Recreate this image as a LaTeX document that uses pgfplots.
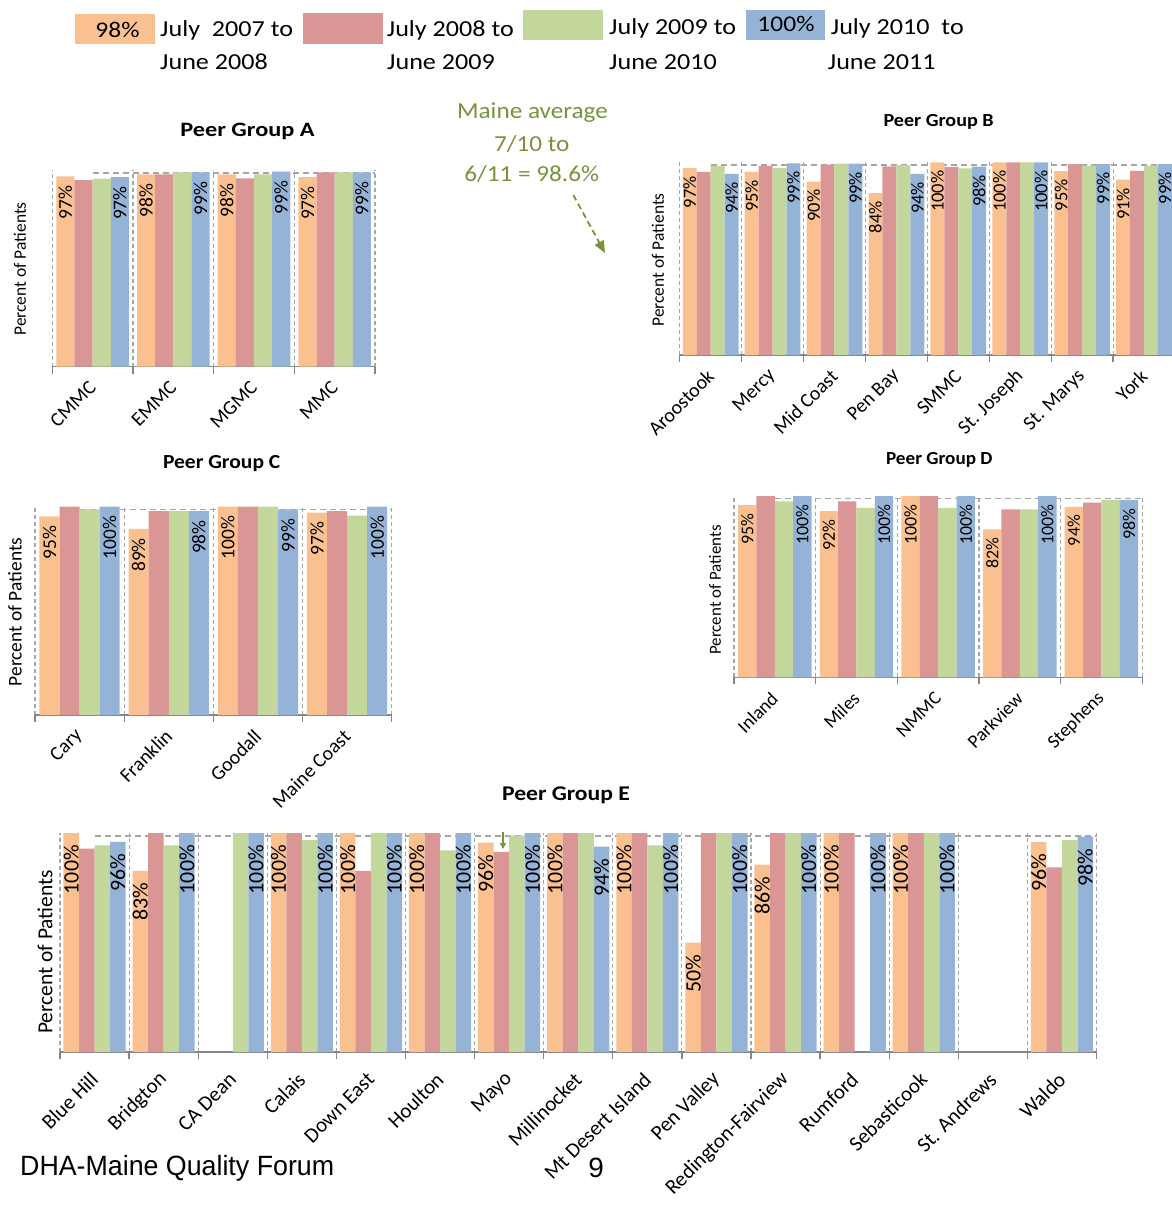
\documentclass[border=0pt]{standalone}
\usepackage{pgfplots}
\pgfplotsset{compat=1.18}
\usepackage{fontspec}
\setmainfont{Carlito}
\newfontfamily\arialf{Liberation Sans}
\usetikzlibrary{arrows.meta}
\definecolor{cO}{HTML}{FAC090}
\definecolor{cR}{HTML}{D99694}
\definecolor{cG}{HTML}{C3D69B}
\definecolor{cB}{HTML}{95B3D7}
\definecolor{gridg}{HTML}{A6A6A6}
\definecolor{axg}{HTML}{868686}
\definecolor{olive}{HTML}{77933C}
\newcommand{\fs}[1]{\fontsize{#1}{#1}\selectfont}
\pgfplotsset{
  peer/.style={
    scale only axis, anchor=south west, ymin=0, ymax=100, clip=false,
    axis y line=none, axis x line*=bottom, ytick=\empty,
    x axis line style={draw=axg, line width=1.5bp},
    major tick length=0pt, minor tick length=7bp, tick align=outside,
    minor tick style={draw=axg, line width=1.3bp},
    xminorgrids, minor grid style={draw=gridg, line width=1.1bp, dash pattern=on 4bp off 3bp},
    xticklabel style={rotate=45, anchor=east, inner sep=0pt, text=black},
    xticklabel shift=18bp,
  },
  bO/.style={ybar, bar width=0.225, bar shift=-0.3375, fill=cO, draw=none},
  bR/.style={ybar, bar width=0.225, bar shift=-0.1125, fill=cR, draw=none},
  bG/.style={ybar, bar width=0.225, bar shift=0.1125, fill=cG, draw=none},
  bB/.style={ybar, bar width=0.225, bar shift=0.3375, fill=cB, draw=none},
  lab/.style={nodes near coords={\pgfmathprintnumber[fixed,precision=0,assume math mode=true]{\pgfplotspointmeta}\%},
    nodes near coords style={xshift=#1, rotate=90, anchor=east, inner ysep=0pt, text=black}},
  avg/.style={sharp plot, mark=none, draw=gridg, line width=1.5bp, dash pattern=on 6bp off 4bp, forget plot},
}
\begin{document}
\begin{tikzpicture}
\useasboundingbox (0bp,0bp) rectangle (1172bp,-1205bp);

% ---------- legend ----------
\fill[cO] (75bp,-14.3bp) rectangle (155bp,-44bp);
\node[font=\fs{22.5}, xscale=1.14] at (117.5bp,-30bp) {98\%};
\node[anchor=base west, font=\fs{23}, xscale=1.14, inner sep=0pt] at (160bp,-36bp) {July\ \ 2007 to};
\node[anchor=base west, font=\fs{23}, xscale=1.14, inner sep=0pt] at (160bp,-69bp) {June 2008};
\fill[cR] (303.3bp,-13.3bp) rectangle (383.3bp,-44bp);
\node[anchor=base west, font=\fs{23}, xscale=1.14, inner sep=0pt] at (386.7bp,-36bp) {July 2008 to};
\node[anchor=base west, font=\fs{23}, xscale=1.14, inner sep=0pt] at (387bp,-69bp) {June 2009};
\fill[cG] (523.3bp,-10bp) rectangle (603.3bp,-40bp);
\node[anchor=base west, font=\fs{23}, xscale=1.14, inner sep=0pt] at (609bp,-34bp) {July 2009 to};
\node[anchor=base west, font=\fs{23}, xscale=1.14, inner sep=0pt] at (609bp,-69bp) {June 2010};
\fill[cB] (745.7bp,-10bp) rectangle (825bp,-40bp);
\node[font=\fs{22.5}, xscale=1.14] at (786bp,-24bp) {100\%};
\node[anchor=base west, font=\fs{23}, xscale=1.14, inner sep=0pt] at (830.7bp,-34bp) {July 2010\ \ to};
\node[anchor=base west, font=\fs{23}, xscale=1.14, inner sep=0pt] at (827.7bp,-69bp) {June 2011};

% ---------- annotation ----------
\node[anchor=base, font=\fs{23}, xscale=1.1, text=olive, inner sep=0pt] at (532.5bp,-118.3bp) {Maine average};
\node[anchor=base, font=\fs{23}, xscale=1.1, text=olive, inner sep=0pt] at (531.7bp,-151.7bp) {7/10 to};
\node[anchor=base, font=\fs{23}, xscale=1.1, text=olive, inner sep=0pt] at (531.7bp,-181.7bp) {6/11 = 98.6\%};
\draw[olive, line width=1.8bp, dash pattern=on 6bp off 4bp, -{Triangle[length=12bp,width=10bp]}] (573.3bp,-195bp) -- (605bp,-253bp);

% ---------- titles and y labels ----------
\node[font=\fs{20.5}\bfseries, xscale=1.19] at (247.5bp,-131.7bp) {Peer Group A};
\node[font=\fs{18.5}\bfseries, xscale=1.09] at (938.6bp,-122bp) {Peer Group B};
\node[font=\fs{20}\bfseries, xscale=1.08] at (221.7bp,-464bp) {Peer Group C};
\node[font=\fs{18.5}\bfseries, xscale=1.04] at (939.3bp,-460bp) {Peer Group D};
\node[font=\fs{21}\bfseries, xscale=1.13] at (566bp,-795bp) {Peer Group E};
\node[rotate=90, font=\fs{17.5}] at (20bp,-269bp) {Percent of Patients};
\node[rotate=90, font=\fs{17.5}] at (658bp,-260bp) {Percent of Patients};
\node[rotate=90, font=\fs{19.5}] at (15bp,-612bp) {Percent of Patients};
\node[rotate=90, font=\fs{17}] at (715bp,-590bp) {Percent of Patients};
\node[rotate=90, font=\fs{21.5}] at (45bp,-952bp) {Percent of Patients};

% ---------- Peer Group A ----------
\begin{axis}[peer, at={(52.3bp,-366.7bp)}, width=322.7bp, height=196.3bp,
  xmin=-0.5, xmax=3.5, xtick={0,...,3}, xticklabels={CMMC,EMMC,MGMC,MMC},
  minor xtick={-0.5,0.5,...,3.5}, xticklabel style={font=\fs{20}},
  nodes near coords style={font=\fs{19.5}, inner xsep=9bp}]
\addplot[avg] coordinates {(0,98.6) (3.5,98.6)};
\addplot[bO, lab=-27.2bp] coordinates {(0,97) (1,98) (2,98) (3,96.6)};
\addplot[bR] coordinates {(0,95) (1,98) (2,96) (3,99)};
\addplot[bG] coordinates {(0,95.8) (1,99) (2,98) (3,99)};
\addplot[bB, lab=27.2bp] coordinates {(0,96.6) (1,99) (2,99.4) (3,99)};
\end{axis}

% ---------- Peer Group B ----------
\begin{axis}[peer, at={(679.7bp,-355bp)}, width=495.3bp, height=192.7bp,
  xmin=-0.5, xmax=7.5, xtick={0,...,7},
  xticklabels={Aroostook,Mercy,Mid Coast,Pen Bay,SMMC,St. Joseph,St. Marys,York},
  minor xtick={-0.5,0.5,...,7.5}, xticklabel style={font=\fs{20}},
  nodes near coords style={font=\fs{18.5}, inner xsep=8bp}]
\addplot[avg] coordinates {(0,98.6) (7.5,98.6)};
\addplot[bO, lab=-20.9bp] coordinates {(0,97) (1,95) (2,90) (3,84) (4,100) (5,100) (6,95.4) (7,91)};
\addplot[bR] coordinates {(0,95) (1,98.1) (2,98.8) (3,97.9) (4,97.6) (5,100) (6,99.1) (7,95.5)};
\addplot[bG] coordinates {(0,98.1) (1,97.1) (2,99.3) (3,98.6) (4,96.9) (5,100) (6,98.3) (7,98.3)};
\addplot[bB, lab=20.9bp] coordinates {(0,94) (1,99.4) (2,99.3) (3,94) (4,97.7) (5,100) (6,99) (7,99)};
\end{axis}

% ---------- Peer Group C ----------
\begin{axis}[peer, at={(35bp,-715bp)}, width=356.7bp, height=208.3bp,
  xmin=-0.5, xmax=3.5, xtick={0,...,3}, xticklabels={Cary,Franklin,Goodall,Maine Coast},
  minor xtick={-0.5,0.5,...,3.5}, xticklabel style={font=\fs{20}},
  nodes near coords style={font=\fs{19.5}, inner xsep=9bp}]
\addplot[avg] coordinates {(0,98.6) (3.5,98.6)};
\addplot[bO, lab=-30.1bp] coordinates {(0,95.4) (1,89.3) (2,100) (3,97.2)};
\addplot[bR] coordinates {(0,100) (1,97.9) (2,100) (3,97.9)};
\addplot[bG] coordinates {(0,98.7) (1,97.9) (2,100) (3,95.7)};
\addplot[bB, lab=30.1bp] coordinates {(0,100) (1,97.9) (2,98.7) (3,100)};
\end{axis}

% ---------- Peer Group D ----------
\begin{axis}[peer, at={(734bp,-677.3bp)}, width=408.3bp, height=181.3bp,
  xmin=-0.5, xmax=4.5, xtick={0,...,4}, xticklabels={Inland,Miles,NMMC,Parkview,Stephens},
  minor xtick={-0.5,0.5,...,4.5}, xticklabel style={font=\fs{19}},
  nodes near coords style={font=\fs{18}, inner xsep=8bp}]
\addplot[avg] coordinates {(0,98.6) (4.5,98.6)};
\addplot[bO, lab=-27.6bp] coordinates {(0,95) (1,91.6) (2,100) (3,81.6) (4,94)};
\addplot[bR] coordinates {(0,100) (1,97.1) (2,100) (3,92.6) (4,96.3)};
\addplot[bG] coordinates {(0,97.1) (1,93.4) (2,93.4) (3,92.6) (4,97.8)};
\addplot[bB, lab=27.6bp] coordinates {(0,100) (1,100) (2,100) (3,100) (4,97.8)};
\end{axis}

% ---------- Peer Group E ----------
\begin{axis}[peer, at={(60bp,-1052bp)}, width=1036.5bp, height=219bp,
  xmin=-0.5, xmax=14.5, xtick={0,...,14}, xticklabel shift=24bp,
  xticklabels={Blue Hill,Bridgton,CA Dean,Calais,Down East,Houlton,Mayo,Millinocket,Mt Desert Island,Pen Valley,Redington-Fairview,Rumford,Sebasticook,St. Andrews,Waldo},
  minor xtick={-0.5,0.5,...,14.5}, xticklabel style={font=\fs{21}},
  nodes near coords style={font=\fs{22}, inner xsep=12bp}]
\addplot[avg] coordinates {(0,98.6) (14.5,98.6)};
\addplot[bO, lab=-23.3bp] coordinates {(0,100) (1,82.7) (3,100) (4,100) (5,100) (6,95.6) (7,100) (8,100) (9,50) (10,85.6) (11,100) (12,100) (14,96)};
\addplot[bR] coordinates {(0,92.9) (1,100) (3,100) (4,82.7) (5,100) (6,91.4) (7,100) (8,100) (9,100) (10,100) (11,100) (12,100) (14,84.3)};
\addplot[bG] coordinates {(0,94.4) (1,94.4) (2,100) (3,96.8) (4,100) (5,92.1) (6,98.8) (7,100) (8,94.4) (9,100) (10,100) (12,100) (14,96.8)};
\addplot[bB, lab=23.3bp] coordinates {(0,96) (1,100) (2,100) (3,100) (4,100) (5,100) (6,100) (7,93.8) (8,100) (9,100) (10,100) (11,100) (12,100) (14,98.3)};
\end{axis}
\draw[olive, line width=1.5bp, -{Triangle[length=6bp,width=6bp]}] (503bp,-832bp) -- (503bp,-849bp);

% ---------- footer ----------
\node[anchor=west, font=\arialf\fs{28}, xscale=0.96, inner sep=0pt] at (20bp,-1168bp) {DHA-Maine Quality Forum};
\node[font=\arialf\fs{28}, inner sep=0pt] at (596bp,-1168bp) {9};
\end{tikzpicture}
\end{document}
